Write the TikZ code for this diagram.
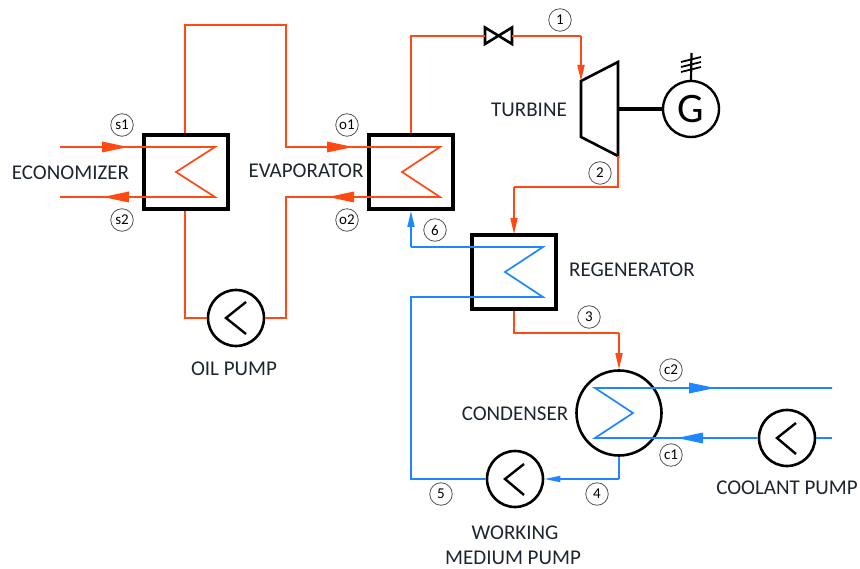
\documentclass[tikz,border=0pt]{standalone}
\usepackage{fontspec}
\setmainfont{Carlito}
\usetikzlibrary{arrows.meta}
\definecolor{hot}{HTML}{FF4A14}
\definecolor{cold}{HTML}{1E87FF}
\definecolor{ink}{HTML}{1C2530}
\definecolor{ring}{HTML}{555555}
\tikzset{
  x=1pt,y=-1pt,
  hotl/.style={draw=hot,line width=1.7pt,line join=miter},
  coldl/.style={draw=cold,line width=1.7pt,line join=miter},
  small/.style={-{Triangle[length=16pt,width=7pt]}},
  hx/.style={draw=black,line width=4pt,minimum width=84pt,minimum height=74pt,inner sep=0pt,rectangle},
  pumpc/.style={circle,draw=black,line width=2.6pt,minimum size=56pt,inner sep=0pt},
  tag/.style={circle,draw=ring,line width=0.8pt,minimum size=22.5pt,inner sep=0pt,text=black,font=\fontsize{15}{15}\selectfont},
  lab/.style={text=ink,font=\fontsize{21}{24}\selectfont,inner sep=0pt},
  chev/.style={draw=black,line width=2.4pt}
}
\newcommand{\headR}[2]{\fill[#1] (#2) -- ++(-26,-5.5) -- ++(0,11) -- cycle;}
\newcommand{\headL}[2]{\fill[#1] (#2) -- ++(26,-5.5) -- ++(0,11) -- cycle;}
\begin{document}
\begin{tikzpicture}
\useasboundingbox (0,0) rectangle (860,569);
% equipment
\node[hx] (eco) at (186,172) {};
\node[hx] (eva) at (411,172) {};
\node[hx] (reg) at (513.5,272) {};
\node[circle,draw=black,line width=2.6pt,minimum size=85pt,inner sep=0pt] (cond) at (619,413) {};
\node[pumpc] (oil) at (236,318) {};
\node[pumpc] (wmp) at (515,479) {};
\node[pumpc] (cop) at (787,438) {};
\node[circle,draw=black,line width=2.4pt,minimum size=56pt,inner sep=0pt,font=\fontsize{42}{42}\selectfont] (gen) at (691,109) {G};
% turbine
\coordinate (tA) at (581,81);
\coordinate (tB) at (618,62);
\coordinate (tC) at (618,156);
\coordinate (tD) at (581,137);
\coordinate (tS) at (618,109);
\draw[black,line width=2.6pt,line join=miter] (tA)--(tB)--(tC)--(tD)--cycle;
\draw[black,line width=3.4pt] (tS) -- (gen.west);
% generator grid
\coordinate (gT) at (691.5,53);
\draw[black,line width=2.2pt] (gen.north) -- (gT);
\draw[black,line width=1.8pt] (681,62)--(701,57) (681,67)--(701,62) (681,72)--(701,67);
% valve
\coordinate (vL) at (485,36);
\coordinate (vR) at (512,36);
\node[inner sep=0pt,minimum size=0pt] (valve) at (498.5,36) {};
\draw[black,line width=2.6pt,line join=miter] (485,27.5)--(512,44)--(512,27.5)--(485,44)--cycle;
% pump chevrons
\draw[chev] (246,302)--(226,318)--(246,334);
\draw[chev] (524,464)--(505,479)--(524,495);
\draw[chev] (796,423)--(777,438)--(796,454);
% oil loop
\coordinate (ecoTop) at (185,133);
\coordinate (oA) at (185,25);
\coordinate (oB) at (286,25);
\coordinate (oC) at (286,147);
\coordinate (oD) at (353,147);
\coordinate (oE) at (440,147);
\coordinate (oF) at (402,172);
\coordinate (oG) at (440,197);
\coordinate (oH) at (328,197);
\coordinate (oI) at (286,197);
\coordinate (oJ) at (286,318);
\coordinate (ecoBot) at (185,211);
\coordinate (oK) at (185,318);
\draw[hotl] (ecoTop)--(oA)--(oB)--(oC)--(oE)--(oF)--(oG)--(oI)--(oJ)--(oil.east);
\draw[hotl] (oil.west)--(oK)--(ecoBot);
\headR{hot}{oD}
\headL{hot}{oH}
% flue stream
\coordinate (sA) at (60,147);
\coordinate (sB) at (128,147);
\coordinate (sC) at (215,147);
\coordinate (sD) at (176,172);
\coordinate (sE) at (215,197);
\coordinate (sF) at (103,197);
\coordinate (sG) at (60,197);
\draw[hotl] (sA)--(sC)--(sD)--(sE)--(sG);
\headR{hot}{sB}
\headL{hot}{sF}
% working fluid, hot side
\coordinate (eTop) at (411,133);
\coordinate (wA) at (411,36);
\coordinate (wB) at (581,36);
\draw[hotl] (eTop)--(wA)--(vL);
\draw[hotl] (vR)--(wB);
\draw[hotl,small] (wB)--(tA);
\coordinate (wC) at (618,187);
\coordinate (wD) at (514,187);
\coordinate (rTop) at (514,234);
\draw[hotl] (tC)--(wC)--(wD);
\draw[hotl,small] (wD)--(rTop);
\coordinate (rBot) at (514,311);
\coordinate (wE) at (514,333);
\coordinate (wF) at (619,333);
\draw[hotl] (rBot)--(wE)--(wF);
\draw[hotl,small] (wF)--(cond.north);
% working fluid, cold side
\coordinate (bA) at (543,247);
\coordinate (bB) at (505,272);
\coordinate (bC) at (543,297);
\coordinate (bD) at (411,297);
\coordinate (bE) at (411,479);
\coordinate (bF) at (411,247);
\coordinate (bG) at (411,211);
\coordinate (bH) at (619,479);
\draw[coldl] (wmp.west)--(bE)--(bD)--(bC)--(bB)--(bA)--(bF);
\draw[coldl,small] (bF)--(bG);
\draw[coldl] (cond.south)--(bH);
\draw[coldl,-{Triangle[length=16pt,width=6pt]}] (bH)--(wmp.east);
% coolant
\coordinate (cA) at (595,388);
\coordinate (cB) at (633,413);
\coordinate (cC) at (595,438);
\coordinate (cD) at (715,388);
\coordinate (cE) at (832,388);
\coordinate (cF) at (677,438);
\coordinate (cG) at (832,438);
\draw[coldl] (cE)--(cA)--(cB)--(cC)--(cop.west);
\draw[coldl] (cG)--(cop.east);
\headR{cold}{cD}
\headL{cold}{cF}
% tags
\node[tag] (ts1) at (122,125) {s1};
\node[tag] (ts2) at (122,220) {s2};
\node[tag] (to1) at (347,125) {o1};
\node[tag] (to2) at (347,220) {o2};
\node[tag] (t1) at (560,20) {1};
\node[tag] (t2) at (600,173) {2};
\node[tag] (t3) at (589,317) {3};
\node[tag] (t4) at (597,494) {4};
\node[tag] (t5) at (441,494) {5};
\node[tag] (t6) at (435,230) {6};
\node[tag] (tc2) at (671,370) {c2};
\node[tag] (tc1) at (671,455) {c1};
% labels
\node[lab] (lEco) at (70.5,173) {ECONOMIZER};
\node[lab] (lEva) at (306,171) {EVAPORATOR};
\node[lab] (lTur) at (529,110) {TURBINE};
\node[lab] (lReg) at (632,270) {REGENERATOR};
\node[lab] (lCon) at (515,414) {CONDENSER};
\node[lab] (lOil) at (234,369) {OIL PUMP};
\node[lab] (lCop) at (787,488) {COOLANT PUMP};
\node[lab] (lW1) at (515,533) {WORKING};
\node[lab] (lW2) at (513,557.5) {MEDIUM PUMP};
\end{tikzpicture}
\end{document}
